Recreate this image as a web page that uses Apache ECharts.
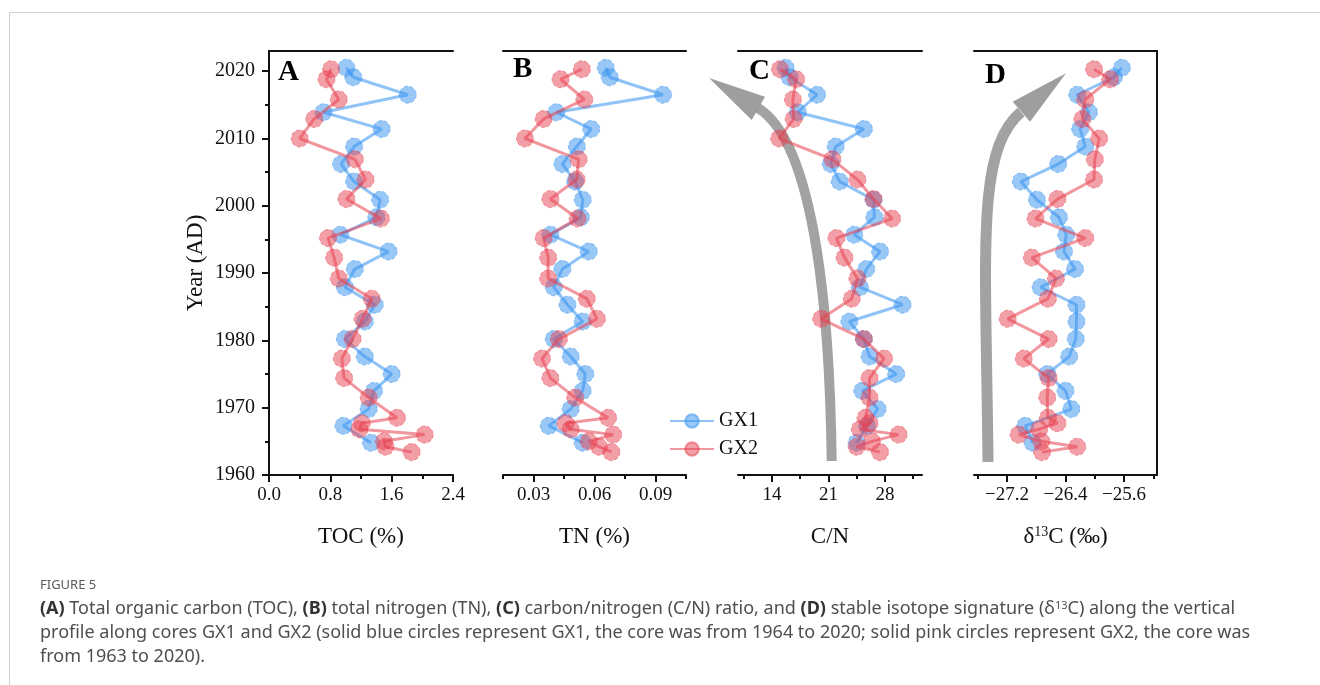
<!DOCTYPE html>
<html>
<head>
<meta charset="utf-8">
<script src="https://cdn.jsdelivr.net/npm/echarts@6/dist/echarts.min.js"></script>
<style>
  html, body { margin: 0; padding: 0; background: #fff; }
  #chart { width: 1320px; height: 685px; }
</style>
</head>
<body>
<div id="chart"></div>
<script>
// sampling years of the two cores
var yearsGX1 = [2020.5, 2019.1, 2016.5, 2013.9, 2011.4, 2008.8, 2006.2, 2003.6, 2000.9, 1998.3, 1995.7, 1993.2,
  1990.6, 1987.9, 1985.3, 1982.8, 1980.2, 1977.6, 1975.0, 1972.5, 1969.8, 1967.3, 1964.8];
var yearsGX2 = [2020.3, 2018.8, 2015.8, 2012.9, 2010.0, 2006.9, 2003.9, 2001.0, 1998.1, 1995.2, 1992.3, 1989.2,
  1986.2, 1983.2, 1980.2, 1977.3, 1974.4, 1971.5, 1968.5, 1967.7, 1966.8, 1966.0, 1965.0, 1964.2, 1963.4];

// (A) TOC %
var tocGX1 = [1.01, 1.10, 1.81, 0.71, 1.47, 1.11, 0.94, 1.11, 1.45, 1.40, 0.93, 1.56,
  1.12, 0.99, 1.38, 1.25, 0.99, 1.25, 1.60, 1.37, 1.30, 0.97, 1.33];
var tocGX2 = [0.81, 0.75, 0.91, 0.59, 0.40, 1.12, 1.26, 1.01, 1.46, 0.77, 0.85, 0.91,
  1.34, 1.22, 1.09, 0.95, 0.98, 1.30, 1.67, 1.21, 1.18, 2.03, 1.50, 1.52, 1.86];
// (B) TN %
var tnGX1 = [0.0655, 0.0675, 0.0937, 0.0412, 0.0584, 0.0513, 0.0442, 0.0505, 0.0542, 0.0533, 0.0383, 0.0572,
  0.0442, 0.0400, 0.0467, 0.0542, 0.0400, 0.0483, 0.0555, 0.0542, 0.0483, 0.0375, 0.0542];
var tnGX2 = [0.0538, 0.0433, 0.0550, 0.0350, 0.0258, 0.0522, 0.0512, 0.0383, 0.0517, 0.0350, 0.0372, 0.0372,
  0.0562, 0.0612, 0.0425, 0.0342, 0.0383, 0.0505, 0.0667, 0.0458, 0.0483, 0.0692, 0.0572, 0.0622, 0.0683];
// (C) C/N
var cnGX1 = [15.7, 16.2, 19.6, 17.2, 25.4, 21.9, 21.3, 22.4, 26.6, 26.7, 24.2, 27.4,
  25.7, 24.9, 30.2, 23.6, 25.4, 26.1, 29.4, 25.2, 27.1, 25.8, 24.5];
var cnGX2 = [15.0, 17.0, 16.6, 16.7, 14.9, 21.5, 24.6, 26.6, 28.9, 22.0, 23.0, 24.6,
  23.9, 20.1, 25.4, 27.9, 26.1, 26.1, 25.6, 26.1, 24.9, 29.7, 26.4, 24.5, 27.4];
// (D) d13C permil
var d13cGX1 = [-25.63, -25.74, -26.24, -26.08, -26.20, -26.13, -26.50, -27.01, -26.79, -26.49, -26.39, -26.42,
  -26.27, -26.74, -26.25, -26.25, -26.26, -26.35, -26.65, -26.40, -26.32, -26.95, -26.85];
var d13cGX2 = [-26.01, -25.79, -26.13, -26.17, -25.94, -26.00, -26.01, -26.51, -26.81, -26.13, -26.86, -26.53,
  -26.64, -27.19, -26.63, -26.97, -26.63, -26.65, -26.64, -26.51, -26.76, -27.04, -26.73, -26.24, -26.72];

// tick labels
var yearTicks = [1960, 1970, 1980, 1990, 2000, 2010, 2020];
var yearMinor = [1965, 1975, 1985, 1995, 2005, 2015];
var tocTicks = [0, 0.8, 1.6, 2.4];
var tocMinor = [0.4, 1.2, 2.0];
var tnTicks = [0.03, 0.06, 0.09];
var tnMinor = [0.015, 0.045, 0.075, 0.105];
var cnTicks = [14, 21, 28];
var cnMinor = [10.5, 17.5, 24.5, 31.5];
var d13cTicks = [-27.2, -26.4, -25.6];
var d13cMinor = [-27.6, -26.8, -26.0, -25.2];

var serif = 'Liberation Serif';
var ink = '#111';
var blue = '#3392f0';
var red = '#e8404f';

var panels = [
  { left: 269, width: 184, min: 0, max: 2.4, ticks: tocTicks, minor: tocMinor, name: 'TOC (%)',
    fmt: function (v) { return v.toFixed(1); }, g1: tocGX1, g2: tocGX2 },
  { left: 503, width: 183, min: 0.015, max: 0.105, ticks: tnTicks, minor: tnMinor, name: 'TN (%)',
    fmt: function (v) { return v.toFixed(2); }, g1: tnGX1, g2: tnGX2 },
  { left: 738, width: 184, min: 9.8, max: 32.6, ticks: cnTicks, minor: cnMinor, name: 'C/N',
    fmt: function (v) { return String(Math.round(v)); }, g1: cnGX1, g2: cnGX2 },
  { left: 974, width: 183, min: -27.65, max: -25.15, ticks: d13cTicks, minor: d13cMinor,
    name: '{n|δ}{s|13}{n|C (‰)}',
    fmt: function (v) { return v.toFixed(1).replace('-', '\u2212'); }, g1: d13cGX1, g2: d13cGX2 }
];

var TOP = 51, H = 424, YMIN = 1960, YMAX = 2023;

function pairs(xs, ys) {
  return xs.map(function (v, i) { return [v, ys[i]]; });
}

var grids = [], xAxes = [], yAxes = [], series = [];
var axisLineStyle = { color: ink, width: 2 };

panels.forEach(function (p, i) {
  grids.push({ left: p.left, top: TOP, width: p.width, height: H });
});
panels.forEach(function (p, i) {
  grids.push({ left: p.left, top: TOP, width: p.width, height: H });
});

panels.forEach(function (p, i) {
  // bottom axis with labels and major ticks
  xAxes.push({
    type: 'value', gridIndex: i, position: 'bottom', min: p.min, max: p.max,
    name: p.name, nameLocation: 'middle', nameGap: 50,
    nameTextStyle: {
      fontFamily: serif, fontSize: 23, color: ink,
      rich: {
        n: { fontFamily: serif, fontSize: 23, color: ink },
        s: { fontFamily: serif, fontSize: 14, color: ink, verticalAlign: 'top' }
      }
    },
    axisLine: { show: true, onZero: false, lineStyle: axisLineStyle },
    axisTick: { show: true, inside: false, length: 7, customValues: p.ticks, lineStyle: axisLineStyle },
    axisLabel: { customValues: p.ticks, formatter: p.fmt, margin: 11, fontFamily: serif, fontSize: 19, color: ink },
    splitLine: { show: false }
  });
  // top frame line
  xAxes.push({
    type: 'value', gridIndex: i, position: 'top', min: p.min, max: p.max,
    axisLine: { show: true, onZero: false, lineStyle: axisLineStyle },
    axisTick: { show: false }, axisLabel: { show: false }, splitLine: { show: false }
  });
});
panels.forEach(function (p, i) {
  // minor ticks on the overlay grid
  xAxes.push({
    type: 'value', gridIndex: 4 + i, position: 'bottom', min: p.min, max: p.max,
    axisLine: { show: false, onZero: false },
    axisTick: { show: true, inside: false, length: 4, customValues: p.minor, lineStyle: axisLineStyle },
    axisLabel: { show: false }, splitLine: { show: false }
  });
});

panels.forEach(function (p, i) {
  var first = i === 0;
  yAxes.push({
    type: 'value', gridIndex: i, position: 'left', min: YMIN, max: YMAX, show: first,
    name: 'Year (AD)', nameLocation: 'middle', nameGap: 62, nameRotate: 90,
    nameTextStyle: { fontFamily: serif, fontSize: 23, color: ink },
    axisLine: { show: true, onZero: false, lineStyle: axisLineStyle },
    axisTick: { show: true, inside: false, length: 7, customValues: yearTicks, lineStyle: axisLineStyle },
    axisLabel: { customValues: yearTicks, formatter: function (v) { return String(v); },
      margin: 14, fontFamily: serif, fontSize: 20, color: ink },
    splitLine: { show: false }
  });
});
panels.forEach(function (p, i) {
  var first = i === 0;
  yAxes.push({
    type: 'value', gridIndex: 4 + i, position: 'left', min: YMIN, max: YMAX, show: first,
    axisLine: { show: false, onZero: false },
    axisTick: { show: true, inside: false, length: 4, customValues: yearMinor, lineStyle: axisLineStyle },
    axisLabel: { show: false }, splitLine: { show: false }
  });
});
// right frame of panel D
yAxes.push({
  type: 'value', gridIndex: 3, position: 'right', min: YMIN, max: YMAX,
  axisLine: { show: true, onZero: false, lineStyle: axisLineStyle },
  axisTick: { show: false }, axisLabel: { show: false }, splitLine: { show: false }
});

function makeSeries(name, color, xs, ys, i) {
  return {
    name: name, type: 'line', xAxisIndex: 2 * i, yAxisIndex: i,
    data: pairs(xs, ys),
    symbol: 'circle', symbolSize: 17,
    itemStyle: { color: color, opacity: 0.5, borderColor: color, borderWidth: 1, borderType: 'dashed' },
    lineStyle: { color: color, width: 3, opacity: 0.55 },
    clip: false, z: name === 'GX1' ? 3 : 4
  };
}
panels.forEach(function (p, i) {
  series.push(makeSeries('GX1', blue, p.g1, yearsGX1, i));
  series.push(makeSeries('GX2', red, p.g2, yearsGX2, i));
});

var capFont = 'Noto Sans';
var capSize = 18;
var capStyle = { fontFamily: capFont, fontSize: capSize, fill: '#4f4f4f' };
var capRich = {
  b: { fontFamily: capFont, fontSize: capSize, fontWeight: 'bold', fill: '#333', color: '#333' },
  t: { fontFamily: capFont, fontSize: capSize, fill: '#4f4f4f', color: '#4f4f4f' },
  s: { fontFamily: capFont, fontSize: 11, fill: '#4f4f4f', color: '#4f4f4f', verticalAlign: 'top' }
};

function letter(txt, x, y) {
  return {
    type: 'text', left: x, top: y, z: 20,
    style: { text: txt, fontFamily: serif, fontSize: 29, fontWeight: 'bold', fill: '#000' }
  };
}

var graphics = [
  // figure frame
  { type: 'rect', shape: { x: 9.5, y: 12.5, width: 1400, height: 800 },
    style: { fill: 'none', stroke: '#cfcfcf', lineWidth: 1 }, silent: true },
  letter('A', 278, 58), letter('B', 513, 55), letter('C', 749, 57), letter('D', 985, 61),
  // trend arrow in C
  { type: 'bezierCurve', z: 1,
    shape: { x1: 831.7, y1: 461, cpx1: 830, cpy1: 330, cpx2: 817.7, cpy2: 144.5, x2: 758, y2: 108 },
    style: { stroke: '#a2a2a2', lineWidth: 10, fill: null } },
  { type: 'polygon', z: 1, shape: { points: [[709, 78], [751.7, 120], [765, 96.7]] },
    style: { fill: 'rgba(120,120,120,0.72)' } },
  // trend arrow in D
  { type: 'bezierCurve', z: 1,
    shape: { x1: 988, y1: 462, cpx1: 986, cpy1: 250, cpx2: 975.4, cpy2: 151, x2: 1021, y2: 112 },
    style: { stroke: '#a2a2a2', lineWidth: 11, fill: null } },
  { type: 'polygon', z: 1, shape: { points: [[1066, 73.3], [1012.7, 101.7], [1030, 121.7]] },
    style: { fill: 'rgba(120,120,120,0.72)' } },
  // caption
  { type: 'text', left: 40, top: 579,
    style: { text: 'FIGURE 5', fontFamily: capFont, fontSize: 13, fill: '#5a5a5a' } },
  { type: 'text', left: 40, top: 600,
    style: Object.assign({}, capStyle, {
      text: '{b|(A)}{t| Total organic carbon (TOC), }{b|(B)}{t| total nitrogen (TN), }{b|(C)}{t| carbon/nitrogen (C/N) ratio, and }{b|(D)}{t| stable isotope signature (δ}{s|13}{t|C) along the vertical}',
      rich: capRich }) },
  { type: 'text', left: 40, top: 624,
    style: Object.assign({}, capStyle, {
      text: 'profile along cores GX1 and GX2 (solid blue circles represent GX1, the core was from 1964 to 2020; solid pink circles represent GX2, the core was' }) },
  { type: 'text', left: 40, top: 648,
    style: Object.assign({}, capStyle, { text: 'from 1963 to 2020).' }) }
];

var chart = echarts.init(document.getElementById('chart'));
chart.setOption({
  animation: false,
  backgroundColor: '#fff',
  grid: grids,
  xAxis: xAxes,
  yAxis: yAxes,
  legend: {
    data: ['GX1', 'GX2'], orient: 'vertical', left: 664, top: 406,
    itemWidth: 44, itemHeight: 17, itemGap: 8,
    textStyle: { fontFamily: serif, fontSize: 20, color: ink }
  },
  series: series,
  graphic: graphics
});
</script>
</body>
</html>
